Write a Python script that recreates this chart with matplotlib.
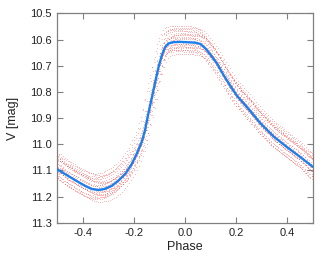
import numpy as np
import matplotlib
matplotlib.use("Agg")
import matplotlib.pyplot as plt

plt.rcParams['font.family'] = ['Liberation Sans', 'DejaVu Sans']

# Mean light curve
curve_phase = [-0.502, -0.469, -0.430, -0.391, -0.365, -0.339, -0.313, -0.286, -0.260,
               -0.234, -0.208, -0.188, -0.169, -0.156, -0.143, -0.130, -0.116, -0.103,
               -0.090, -0.077, -0.064, -0.045, -0.018, 0.041, 0.060, 0.080, 0.099,
               0.125, 0.151, 0.178, 0.204, 0.243, 0.295, 0.347, 0.400, 0.452, 0.502]
curve_mag = [11.095, 11.114, 11.137, 11.159, 11.171, 11.175, 11.171, 11.159, 11.139,
             11.114, 11.076, 11.035, 10.991, 10.946, 10.882, 10.825, 10.761, 10.704,
             10.659, 10.628, 10.615, 10.610, 10.609, 10.612, 10.617, 10.634, 10.657,
             10.691, 10.736, 10.778, 10.816, 10.859, 10.920, 10.971, 11.012, 11.050, 11.088]

# Observation nights: phase shift, magnitude shift, sampling start and step of each night
cycle_dphase = [-0.012, -0.006, 0.000, 0.005, 0.010, -0.003, 0.008, -0.009,
                0.003, 0.012, -0.001, 0.006, -0.010, 0.002, -0.005, 0.009,
                -0.014, 0.013, -0.007, 0.004, -0.002, 0.011, -0.011, 0.007]
cycle_dmag = [-0.062, -0.050, -0.041, -0.033, -0.026, -0.019, -0.012, -0.006,
              0.000, 0.006, 0.011, 0.017, 0.022, 0.029, 0.036, 0.046,
              -0.045, -0.029, -0.016, -0.003, 0.008, 0.020, 0.031, -0.055]
cycle_start = [0.0000, 0.0021, 0.0042, 0.0011, 0.0032, 0.0053, 0.0006, 0.0027,
               0.0048, 0.0016, 0.0037, 0.0058, 0.0003, 0.0024, 0.0045, 0.0013,
               0.0034, 0.0055, 0.0008, 0.0029, 0.0050, 0.0018, 0.0039, 0.0060]
cycle_step = [0.0070, 0.0083, 0.0077, 0.0091, 0.0068, 0.0086, 0.0074, 0.0095,
              0.0081, 0.0072, 0.0088, 0.0079, 0.0093, 0.0069, 0.0085, 0.0076,
              0.0090, 0.0073, 0.0087, 0.0080, 0.0094, 0.0071, 0.0084, 0.0078]

xticks = [-0.4, -0.2, 0.0, 0.2, 0.4]
yticks = [10.5, 10.6, 10.7, 10.8, 10.9, 11.0, 11.1, 11.2, 11.3]

fig = plt.figure(figsize=(3.3, 2.62), dpi=100)
ax = fig.add_axes([0.173, 0.150, 0.775, 0.799])

for dp, dm, st, stp in zip(cycle_dphase, cycle_dmag, cycle_start, cycle_step):
    ph = np.arange(-0.5 + st, 0.5, stp)
    mg = np.interp(ph - dp, curve_phase, curve_mag, period=1.0) + dm
    ax.scatter(ph, mg, s=0.4, color='#ff2020', alpha=0.28, linewidths=0, zorder=2)

ax.plot(curve_phase, curve_mag, color='#1a80ee', lw=1.7, zorder=3,
        solid_joinstyle='round', solid_capstyle='butt')

ax.set_xlim(-0.5, 0.5)
ax.set_ylim(11.3, 10.5)
ax.set_xticks(xticks)
ax.set_xticklabels([f"{t:.1f}" for t in xticks])
ax.set_yticks(yticks)
ax.set_yticklabels([f"{t:.1f}" for t in yticks])
ax.tick_params(direction='in', top=True, right=True, length=4, width=0.8,
               color='#808080', labelsize=8, pad=4, labelcolor='#222222')
for s in ax.spines.values():
    s.set_color('#808080')
    s.set_linewidth(0.9)
ax.set_xlabel('Phase', fontsize=9, labelpad=2, color='#222222')
ax.set_ylabel('V [mag]', fontsize=9, labelpad=8, color='#222222')

fig.savefig('out.png', dpi=100)
